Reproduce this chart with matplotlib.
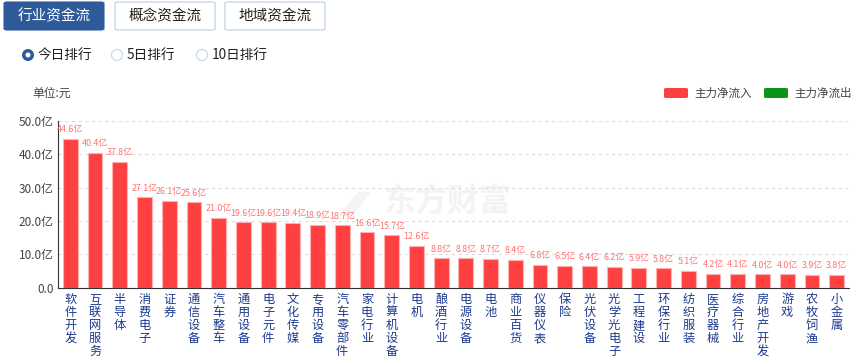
import matplotlib
matplotlib.use("Agg")
import matplotlib.pyplot as plt
from matplotlib.patches import FancyBboxPatch, Ellipse, Polygon

plt.rcParams['font.family'] = ['Noto Sans CJK SC', 'DejaVu Sans']

categories = ["软件开发", "互联网服务", "半导体", "消费电子", "证券", "通信设备", "汽车整车",
              "通用设备", "电子元件", "文化传媒", "专用设备", "汽车零部件", "家电行业", "计算机设备",
              "电机", "酿酒行业", "电源设备", "电池", "商业百货", "仪器仪表", "保险", "光伏设备",
              "光学光电子", "工程建设", "环保行业", "纺织服装", "医疗器械", "综合行业", "房地产开发",
              "游戏", "农牧饲渔", "小金属"]
values = [44.6, 40.4, 37.8, 27.1, 26.1, 25.6, 21.0, 19.6, 19.6, 19.4, 18.9, 18.7, 16.6, 15.7,
          12.6, 8.8, 8.8, 8.7, 8.4, 6.8, 6.5, 6.4, 6.2, 5.9, 5.8, 5.1, 4.2, 4.1, 4.0, 4.0, 3.9, 3.8]
yticks = [0, 10, 20, 30, 40, 50]
ytick_labels = ["0.0", "10.0亿", "20.0亿", "30.0亿", "40.0亿", "50.0亿"]
tabs = ["行业资金流", "概念资金流", "地域资金流"]
radios = ["今日排行", "5日排行", "10日排行"]
legend_items = ["主力净流入", "主力净流出"]

W, H = 864, 358
fig = plt.figure(figsize=(W / 100, H / 100), dpi=100)

def fx(x):
    return x / W

def fy(y):
    return 1 - y / H

# watermark (drawn beneath the axes)
fig.text(fx(447), fy(203), "东方财富", fontsize=23, fontweight="bold", color="#f3f3f3",
         ha="center", va="center", zorder=-2)
logo = Polygon([(fx(338), fy(216)), (fx(358), fy(192)), (fx(371), fy(192)), (fx(352), fy(216))],
               closed=True, transform=fig.transFigure, facecolor="#f4f4f4", edgecolor="none",
               zorder=-2)
fig.patches.append(logo)

ax = fig.add_axes([fx(58), fy(287.7), fx(849) - fx(58), fy(121) - fy(287.7)])
ax.patch.set_alpha(0)
ax.set_zorder(1)
x = list(range(len(categories)))
ax.bar(x, values, width=0.6, color="#ff4040", edgecolor="#ffb0b0", linewidth=0.8, zorder=3)
for xi, v in zip(x, values):
    ax.text(xi, v + 1.4, f"{v:.1f}亿", ha="center", va="bottom", fontsize=6.4, color="#ff7373")

ax.set_xlim(-0.5, len(categories) - 0.5)
ax.set_ylim(0, 50)
ax.set_yticks(yticks)
ax.set_yticklabels(ytick_labels, fontsize=8.5, color="#444444")
ax.set_xticks(x)
ax.set_xticklabels(["\n".join(c) for c in categories], fontsize=8.8, color="#1d3a8f",
                   linespacing=1.0, va="top")
ax.tick_params(axis="x", length=0, pad=4)
ax.tick_params(axis="y", length=0, pad=3)
for s in ["top", "right"]:
    ax.spines[s].set_visible(False)
ax.spines["bottom"].set_color("#333333")
ax.spines["left"].set_color("#333333")
ax.grid(axis="y", linestyle=(0, (3, 3)), color="#dddddd", linewidth=0.8, zorder=0)
ax.set_axisbelow(True)

# tabs
tab_x = [4, 115, 225]
for i, (tx, label) in enumerate(zip(tab_x, tabs)):
    sel = i == 0
    p = FancyBboxPatch((fx(tx), fy(30)), fx(100), fy(2) - fy(30),
                       boxstyle="round,pad=0,rounding_size=0.004",
                       transform=fig.transFigure, facecolor="#2f5a9a" if sel else "white",
                       edgecolor="#2f5a9a" if sel else "#b8cde4", linewidth=0.8)
    fig.patches.append(p)
    fig.text(fx(tx + 50), fy(16), label, fontsize=10.5, color="white" if sel else "#222222",
             ha="center", va="center")

# radios
radio_x = [28, 117, 202]
for i, (rx, label) in enumerate(zip(radio_x, radios)):
    sel = i == 0
    if sel:
        e = Ellipse((fx(rx), fy(55)), fx(12), fx(12) * W / H, transform=fig.transFigure,
                    facecolor="#2f5a9a", edgecolor="none")
        fig.patches.append(e)
        e2 = Ellipse((fx(rx), fy(55)), fx(5), fx(5) * W / H, transform=fig.transFigure,
                     facecolor="white", edgecolor="none")
        fig.patches.append(e2)
    else:
        e = Ellipse((fx(rx), fy(55)), fx(11), fx(11) * W / H, transform=fig.transFigure,
                    facecolor="white", edgecolor="#c5d5e6", linewidth=0.8)
        fig.patches.append(e)
    fig.text(fx(rx + 10), fy(55), label, fontsize=9.8, color="#222222", ha="left", va="center")

fig.text(fx(32), fy(93), "单位:元", fontsize=8.5, color="#444444", ha="left", va="center")

# legend
leg_x = [664, 764]
leg_colors = ["#ff4040", "#0a9314"]
for lx, lc, label in zip(leg_x, leg_colors, legend_items):
    p = FancyBboxPatch((fx(lx), fy(98)), fx(24), fy(88) - fy(98),
                       boxstyle="round,pad=0,rounding_size=0.003",
                       transform=fig.transFigure, facecolor=lc, edgecolor="none")
    fig.patches.append(p)
    fig.text(fx(lx + 30), fy(93), label, fontsize=8.3, color="#444444", ha="left", va="center")

fig.savefig("out.png", dpi=100)
